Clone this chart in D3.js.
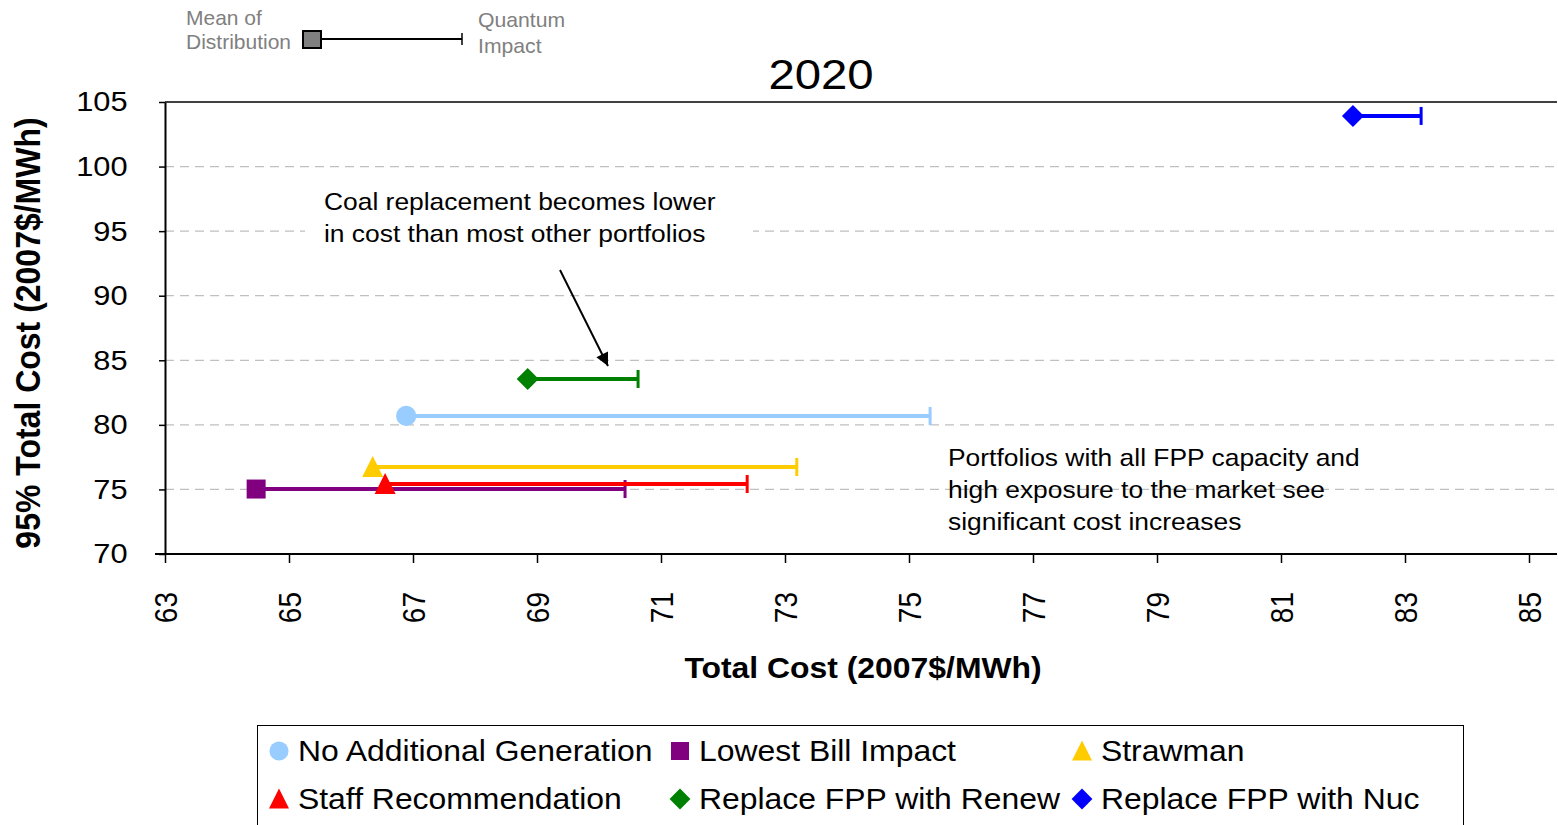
<!DOCTYPE html>
<html>
<head>
<meta charset="utf-8">
<script src="https://cdn.jsdelivr.net/npm/d3@7/dist/d3.min.js"></script>
<style>
  body { margin: 0; background: #fff; }
  svg { font-family: "Liberation Sans", Arial, sans-serif; }
</style>
</head>
<body>
<svg id="chart" width="1558" height="825"></svg>
<script>
// portfolios, in legend order
const portfolios = ['No Additional Generation', 'Lowest Bill Impact', 'Strawman',
  'Staff Recommendation', 'Replace FPP with Renew', 'Replace FPP with Nuc'];
const meanCost = [66.89, 64.47, 66.35, 66.55, 68.85, 82.16];
const quantumCost = [75.34, 70.42, 73.19, 72.39, 70.63, 83.26];
const riskCost = [80.69, 75.03, 76.74, 75.42, 83.55, 103.92];
const colors = ['#99ccff', '#800080', '#ffcc00', '#ff0000', '#008000', '#0000ff'];
const shapes = ['circle', 'square', 'triangle', 'triangle', 'diamond', 'diamond'];

const xTicks = [63, 65, 67, 69, 71, 73, 75, 77, 79, 81, 83, 85];
const yTicks = [70, 75, 80, 85, 90, 95, 100, 105];
const gridValues = [75, 80, 85, 90, 95, 100];

// text in the original is a little wider than Arial at its height
const SX = 1.1;

const svg = d3.select('#chart');

const plot = { left: 165, right: 1557, top: 102, bottom: 554 };
const x = d3.scaleLinear().domain([63, 85]).range([165, 1529]);
const y = d3.scaleLinear().domain([70, 105]).range([plot.bottom, plot.top]);

// marker path for a given shape
function markerPath(shape, k) {
  k = k || 1;
  if (shape === 'diamond') {
    const r = 11 * k;
    return `M0,${-r}L${r},0L0,${r}L${-r},0Z`;
  }
  if (shape === 'square') {
    const h = 9.5 * k;
    return `M${-h},${-h}H${h}V${h}H${-h}Z`;
  }
  if (shape === 'triangle') {
    const w = 10.5 * k, t = 11 * k, b = 10 * k;
    return `M0,${-t}L${w},${b}L${-w},${b}Z`;
  }
  return d3.symbol().type(d3.symbolCircle).size(320 * k * k)();
}

// place a text at (px, py), stretched horizontally
function placeText(sel, px, py) {
  sel.attr('transform', (d, i) => {
    const tx = typeof px === 'function' ? px(d, i) : px;
    const ty = typeof py === 'function' ? py(d, i) : py;
    return `translate(${tx},${ty}) scale(${SX},1)`;
  });
}

// gridlines
svg.append('g')
  .selectAll('line')
  .data(gridValues)
  .join('line')
  .attr('x1', plot.left)
  .attr('x2', plot.right)
  .attr('y1', d => y(d))
  .attr('y2', d => y(d))
  .attr('stroke', '#c0c0c0')
  .attr('stroke-width', 1.2)
  .attr('stroke-dasharray', '9,6');

// top border
svg.append('line')
  .attr('x1', plot.left).attr('x2', plot.right)
  .attr('y1', plot.top).attr('y2', plot.top)
  .attr('stroke', '#000').attr('stroke-width', 1.5);

// y axis
const yAxis = svg.append('g')
  .attr('transform', `translate(${plot.left},0)`)
  .call(d3.axisLeft(y).tickValues(yTicks).tickSize(6).tickSizeOuter(0).tickPadding(28));
yAxis.select('.domain').attr('stroke', '#000').attr('stroke-width', 2);
yAxis.selectAll('.tick line').attr('stroke', '#000').attr('stroke-width', 1.5);
yAxis.selectAll('text').attr('font-size', 28).attr('fill', '#000')
  .attr('font-family', '"Liberation Sans", Arial, sans-serif')
  .attr('transform', `scale(${SX},1)`);

// x axis
const xAxis = svg.append('g')
  .attr('transform', `translate(0,${plot.bottom})`)
  .call(d3.axisBottom(x).tickValues(xTicks).tickSize(9).tickSizeOuter(0));
xAxis.select('.domain').remove();
xAxis.append('line')
  .attr('x1', plot.left - 10).attr('x2', plot.right)
  .attr('stroke', '#000').attr('stroke-width', 2);
xAxis.selectAll('.tick line').attr('stroke', '#000').attr('stroke-width', 1.5);
xAxis.selectAll('text')
  .attr('font-size', 28).attr('fill', '#000')
  .attr('font-family', '"Liberation Sans", Arial, sans-serif')
  .attr('transform', `scale(${SX},1) rotate(-90)`)
  .attr('x', -38).attr('y', 0).attr('dy', '0.36em')
  .style('text-anchor', 'end');

// title and axis labels
svg.append('text')
  .call(placeText, 821, 89)
  .attr('text-anchor', 'middle')
  .attr('font-size', 43)
  .text('2020');

svg.append('text')
  .call(placeText, 863, 678)
  .attr('text-anchor', 'middle')
  .attr('font-size', 29).attr('font-weight', 'bold')
  .text('Total Cost (2007$/MWh)');

svg.append('text')
  .attr('transform', `translate(40,333) scale(${SX},1) rotate(-90)`)
  .attr('text-anchor', 'middle')
  .attr('font-size', 32).attr('font-weight', 'bold')
  .text('95% Total Cost (2007$/MWh)');

// annotation: coal replacement
const note1 = svg.append('g');
note1.append('rect')
  .attr('x', 305).attr('y', 180).attr('width', 448).attr('height', 72)
  .attr('fill', '#fff');
note1.selectAll('text')
  .data(['Coal replacement becomes lower', 'in cost than most other portfolios'])
  .join('text')
  .call(placeText, 324, (d, i) => 210 + i * 32)
  .attr('font-size', 24)
  .text(d => d);

svg.append('defs').append('marker')
  .attr('id', 'arrow')
  .attr('viewBox', '0 0 10 10')
  .attr('refX', 10).attr('refY', 5)
  .attr('markerWidth', 15).attr('markerHeight', 13)
  .attr('markerUnits', 'userSpaceOnUse')
  .attr('orient', 'auto')
  .append('path')
  .attr('d', 'M0,0 L10,5 L0,10 z')
  .attr('fill', '#000');

svg.append('line')
  .attr('x1', 560).attr('y1', 270)
  .attr('x2', 608).attr('y2', 366)
  .attr('stroke', '#000').attr('stroke-width', 2)
  .attr('marker-end', 'url(#arrow)');

// annotation: FPP portfolios
svg.append('g').selectAll('text')
  .data(['Portfolios with all FPP capacity and', 'high exposure to the market see', 'significant cost increases'])
  .join('text')
  .call(placeText, 948, (d, i) => 466 + i * 32)
  .attr('font-size', 24)
  .text(d => d);

// error bars: mean to quantum impact, at the 95% cost
const bars = svg.append('g')
  .selectAll('g')
  .data(portfolios.map((name, i) => ({ name, i })))
  .join('g');

bars.append('line')
  .attr('x1', d => x(meanCost[d.i]))
  .attr('x2', d => x(quantumCost[d.i]))
  .attr('y1', d => y(riskCost[d.i]))
  .attr('y2', d => y(riskCost[d.i]))
  .attr('stroke', d => colors[d.i])
  .attr('stroke-width', 4);

bars.append('line')
  .attr('x1', d => x(quantumCost[d.i]))
  .attr('x2', d => x(quantumCost[d.i]))
  .attr('y1', d => y(riskCost[d.i]) - 9)
  .attr('y2', d => y(riskCost[d.i]) + 9)
  .attr('stroke', d => colors[d.i])
  .attr('stroke-width', 3);

bars.append('path')
  .attr('transform', d => `translate(${x(meanCost[d.i])},${y(riskCost[d.i])})`)
  .attr('d', d => markerPath(shapes[d.i]))
  .attr('fill', d => colors[d.i]);

// explanation key at top left
const key = svg.append('g');
key.selectAll('text.left')
  .data(['Mean of', 'Distribution'])
  .join('text')
  .attr('class', 'left')
  .attr('transform', (d, i) => `translate(186,${25 + i * 24}) scale(1.05,1)`)
  .attr('font-size', 20)
  .attr('fill', '#808080')
  .text(d => d);
key.selectAll('text.right')
  .data(['Quantum', 'Impact'])
  .join('text')
  .attr('class', 'right')
  .attr('transform', (d, i) => `translate(478,${27 + i * 26}) scale(1.06,1)`)
  .attr('font-size', 20)
  .attr('fill', '#808080')
  .text(d => d);
key.append('line')
  .attr('x1', 321).attr('x2', 462).attr('y1', 39).attr('y2', 39)
  .attr('stroke', '#000').attr('stroke-width', 2);
key.append('line')
  .attr('x1', 462).attr('x2', 462).attr('y1', 33).attr('y2', 45)
  .attr('stroke', '#000').attr('stroke-width', 1.5);
key.append('rect')
  .attr('x', 303).attr('y', 31).attr('width', 18).attr('height', 17)
  .attr('fill', '#808080').attr('stroke', '#000').attr('stroke-width', 2);

// legend
const legend = svg.append('g');
legend.append('rect')
  .attr('x', 257.5).attr('y', 725.5).attr('width', 1206).attr('height', 110)
  .attr('fill', '#fff').attr('stroke', '#000').attr('stroke-width', 1);

const legendCols = [279, 680, 1082];
const legendRows = [751, 799];
const items = legend.selectAll('g.item')
  .data(portfolios.map((name, i) => ({ name, i })))
  .join('g')
  .attr('class', 'item')
  .attr('transform', d => `translate(${legendCols[d.i % 3]},${legendRows[Math.floor(d.i / 3)]})`);
items.append('path')
  .attr('d', d => markerPath(shapes[d.i], 0.95))
  .attr('fill', d => colors[d.i]);
items.append('text')
  .call(placeText, 19, 10)
  .attr('font-size', 29)
  .text(d => d.name);
</script>
</body>
</html>
